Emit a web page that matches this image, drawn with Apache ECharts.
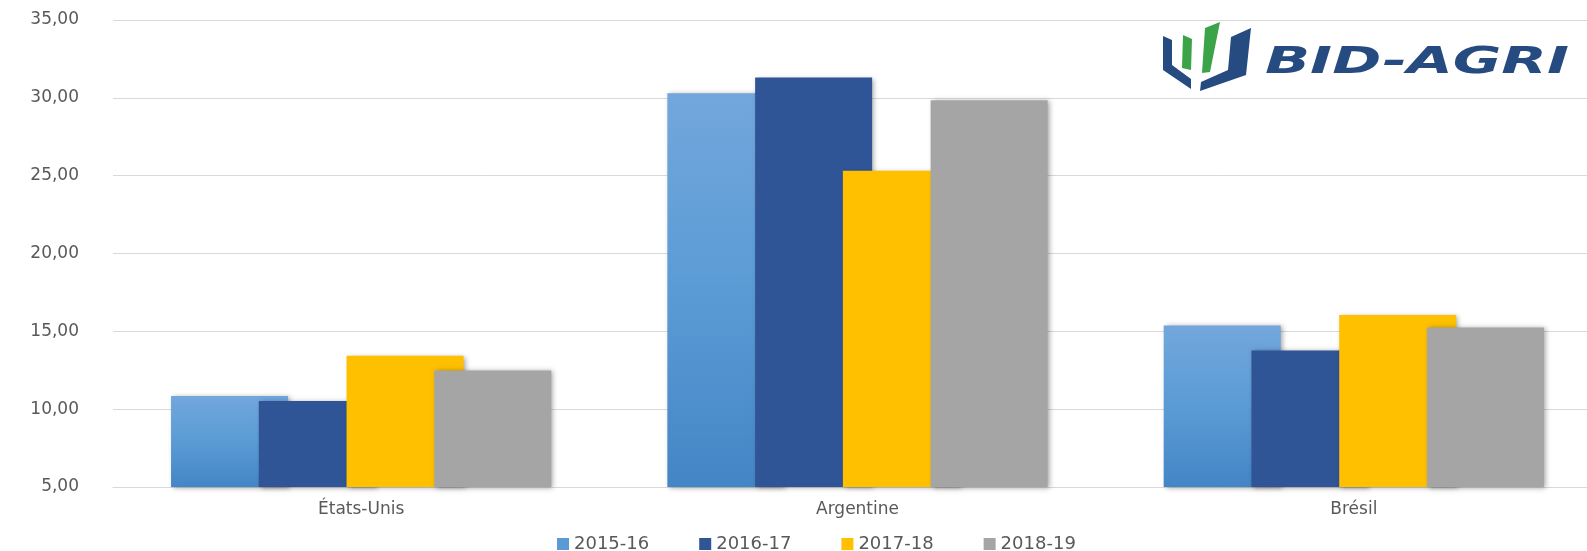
<!DOCTYPE html>
<html>
<head>
<meta charset="utf-8">
<title>BID-AGRI</title>
<script src="https://cdn.jsdelivr.net/npm/echarts@6/dist/echarts.min.js"></script>
<style>
  html, body { margin: 0; padding: 0; background: #fff; }
  #chart { width: 1587px; height: 551px; }
</style>
</head>
<body>
<div id="chart"></div>
<script>
const categories = ['États-Unis', 'Argentine', 'Brésil']
const seriesNames = ['2015-16', '2016-17', '2017-18', '2018-19']
const values2015 = [10.84, 30.29, 15.38]
const values2016 = [10.52, 31.30, 13.77]
const values2017 = [13.43, 25.32, 16.05]
const values2018 = [12.49, 29.84, 15.25]

const colors = [
  new echarts.graphic.LinearGradient(0, 0, 0, 1, [
    { offset: 0, color: '#72A7DC' },
    { offset: 0.5, color: '#5B9BD5' },
    { offset: 1, color: '#4485C6' }
  ]),
  '#2F5597',
  '#FFC000',
  '#A5A5A5'
]
const legendColors = ['#5B9BD5', '#2F5597', '#FFC000', '#A5A5A5']

const font = '"DejaVu Sans", Verdana, sans-serif'

const series = [values2015, values2016, values2017, values2018].map((data, i) => ({
  name: seriesNames[i],
  type: 'bar',
  data,
  barWidth: 117,
  barGap: '-25%',
  itemStyle: {
    color: colors[i],
    shadowBlur: 5,
    shadowOffsetX: 2,
    shadowOffsetY: 1,
    shadowColor: 'rgba(0,0,0,0.35)'
  }
}))

const logoBlue = '#264B80'
const logoGreen = '#3BA449'

const myChart = echarts.init(document.getElementById('chart'))
myChart.setOption({
  animation: false,
  color: legendColors,
  grid: {
    left: 113,
    top: 20,
    width: 1489,
    height: 467,
    outerBoundsMode: 'none'
  },
  legend: {
    left: 552,
    top: 530,
    icon: 'rect',
    itemWidth: 12,
    itemHeight: 12,
    itemGap: 50,
    textStyle: {
      fontFamily: font,
      fontSize: 18,
      color: '#595959'
    },
    data: seriesNames.map((n, i) => ({ name: n, itemStyle: { color: legendColors[i] } }))
  },
  xAxis: {
    type: 'category',
    data: categories,
    axisTick: { show: false },
    axisLine: { lineStyle: { color: '#D9D9D9', width: 1 } },
    axisLabel: {
      margin: 14,
      fontFamily: font,
      fontSize: 17,
      color: '#595959'
    }
  },
  yAxis: {
    type: 'value',
    min: 5,
    max: 35,
    interval: 5,
    axisLine: { show: false },
    axisTick: { show: false },
    splitLine: { lineStyle: { color: '#D9D9D9', width: 1 } },
    axisLabel: {
      margin: 34,
      fontFamily: font,
      fontSize: 17,
      color: '#595959',
      formatter: (v) => v.toFixed(2).replace('.', ',')
    }
  },
  graphic: [
    // logo icon
    {
      type: 'polygon',
      shape: { points: [[1163, 36], [1172, 40], [1172, 65], [1191, 79], [1191, 89], [1163, 70]] },
      style: { fill: logoBlue }
    },
    {
      type: 'polygon',
      shape: { points: [[1251, 28], [1231, 37], [1228, 70], [1201, 82], [1200, 91], [1246, 75]] },
      style: { fill: logoBlue }
    },
    {
      type: 'polygon',
      shape: { points: [[1183, 35], [1192, 39], [1191, 70], [1182, 68]] },
      style: { fill: logoGreen }
    },
    {
      type: 'polygon',
      shape: { points: [[1205, 28], [1220, 22], [1210, 72], [1202, 73]] },
      style: { fill: logoGreen }
    },
    {
      type: 'text',
      x: 1265,
      y: 45,
      scaleX: 1.6,
      style: {
        text: 'BID-AGRI',
        fill: logoBlue,
        font: 'italic bold 37px "DejaVu Sans", sans-serif'
      }
    }
  ],
  series
})
</script>
</body>
</html>
